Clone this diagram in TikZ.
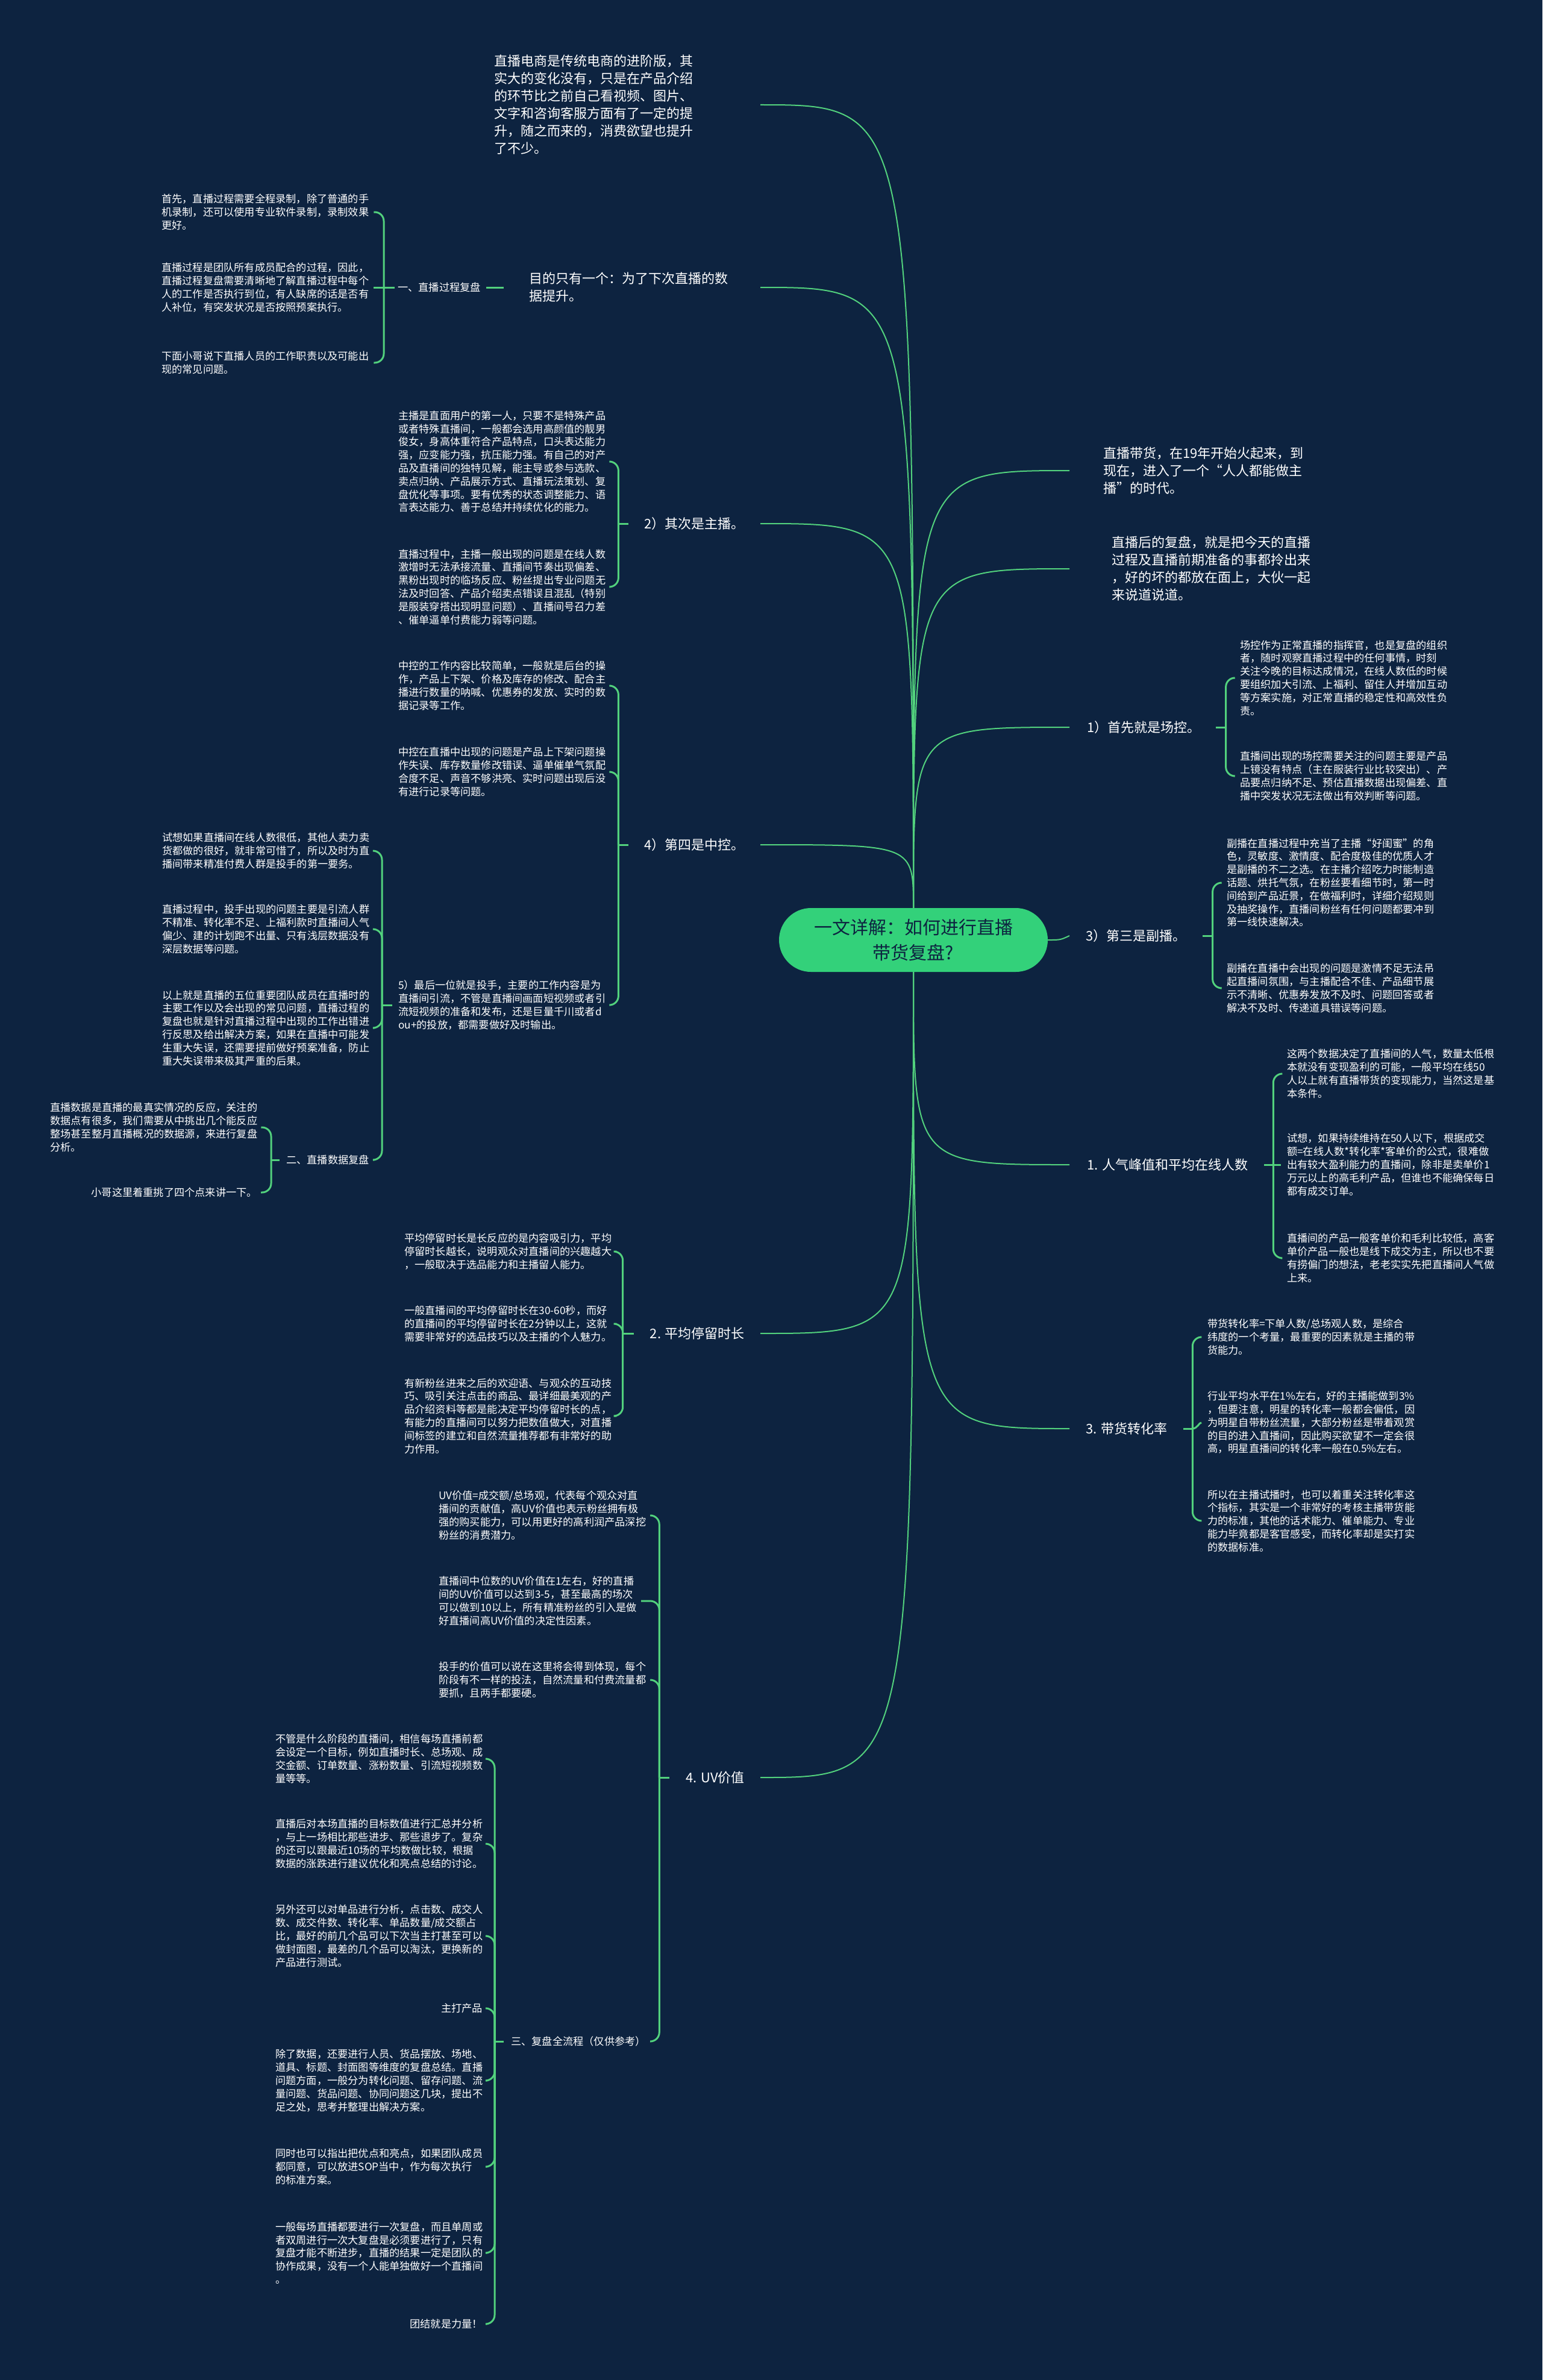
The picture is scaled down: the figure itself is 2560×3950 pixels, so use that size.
\documentclass[tikz,border=0pt]{standalone}
\usepackage{fontspec}
\setmainfont{Noto Sans CJK SC}
\usetikzlibrary{positioning}
\definecolor{bgnavy}{HTML}{0D2340}
\definecolor{linegreen}{HTML}{52D17D}
\definecolor{rootgreen}{HTML}{33D17A}
\tikzset{
  bigtxt/.style={text=white, font=\fontsize{22}{29}\selectfont, align=left, inner sep=0pt},
  smalltxt/.style={text=white, font=\fontsize{17.2}{21.8}\selectfont, align=left, inner sep=0pt},
  rootbox/.style={fill=rootgreen, text=bgnavy, rounded corners=53pt, minimum width=446pt,
    minimum height=106pt, font=\fontsize{30}{42}\selectfont, align=center},
  mainlink/.style={draw=linegreen, line width=2pt},
  subline/.style={draw=linegreen, line width=3pt},
  bracelink/.style={draw=linegreen, line width=3pt, rounded corners=15pt},
}
\begin{document}
\begin{tikzpicture}[x=1pt, y=-1pt]
\fill[bgnavy] (0,0) rectangle (2560,3950);
\useasboundingbox (0,0) rectangle (2560,3950);

% root
\node[rootbox] (root) at (1516,1560) {一文详解：如何进行直播\\带货复盘?};

% first level, left side
\node[bigtxt, anchor=west] (intro) at (820,174) {直播电商是传统电商的进阶版，其\\实大的变化没有，只是在产品介绍\\的环节比之前自己看视频、图片、\\文字和咨询客服方面有了一定的提\\升，随之而来的，消费欲望也提升\\了不少。};
\node[bigtxt, anchor=west] (goal) at (878,477) {目的只有一个：为了下次直播的数\\据提升。};
\node[bigtxt, anchor=east] (host) at (1236,869) {2）其次是主播。};
\node[bigtxt, anchor=east] (ctrl) at (1236,1402) {4）第四是中控。};
\node[bigtxt, anchor=east] (stay) at (1236,2213) {2. 平均停留时长};
\node[bigtxt, anchor=east] (uv) at (1236,2950) {4. UV价值};

% first level, right side
\node[bigtxt, anchor=west] (trend) at (1831,781) {直播带货，在19年开始火起来，到\\现在，进入了一个“人人都能做主\\播”的时代。};
\node[bigtxt, anchor=west] (after) at (1845,944) {直播后的复盘，就是把今天的直播\\过程及直播前期准备的事都拎出来\\，好的坏的都放在面上，大伙一起\\来说道说道。};
\node[bigtxt, anchor=west] (field) at (1804,1207) {1）首先就是场控。};
\node[bigtxt, anchor=west] (assist) at (1802,1553) {3）第三是副播。};
\node[bigtxt, anchor=west] (pop) at (1804,1933) {1. 人气峰值和平均在线人数};
\node[bigtxt, anchor=west] (conv) at (1802,2371) {3. 带货转化率};

% ends of the root links
\coordinate (introIn) at (1262,174);
\coordinate (goalIn) at (1262,477);
\coordinate (hostIn) at (1262,869);
\coordinate (ctrlIn) at (1262,1402);
\coordinate (stayIn) at (1262,2213);
\coordinate (uvIn) at (1262,2950);
\coordinate (trendIn) at (1775,781);
\coordinate (afterIn) at (1775,944);
\coordinate (fieldIn) at (1775,1207);
\coordinate (assistIn) at (1775,1553);
\coordinate (popIn) at (1775,1933);
\coordinate (convIn) at (1775,2371);

\foreach \e in {introIn,goalIn,hostIn,ctrlIn,trendIn,afterIn,fieldIn}
  \draw[mainlink] (root.north) .. controls (root.north |- \e) .. (\e);
\foreach \e in {stayIn,uvIn,popIn,convIn}
  \draw[mainlink] (root.south) .. controls (root.south |- \e) .. (\e);
\draw[mainlink] (root.east) .. controls (1760,1560) .. (assistIn);

% goal -> process review
\node[smalltxt, anchor=west] (procrev) at (660,477) {一、直播过程复盘};
\draw[subline] ([xshift=-42pt]goal.west) -- ([xshift=9pt]procrev.east);
\node[smalltxt, anchor=west] (a1) at (268,352) {首先，直播过程需要全程录制，除了普通的手\\机录制，还可以使用专业软件录制，录制效果\\更好。};
\node[smalltxt, anchor=west] (a2) at (268,477) {直播过程是团队所有成员配合的过程，因此，\\直播过程复盘需要清晰地了解直播过程中每个\\人的工作是否执行到位，有人缺席的话是否有\\人补位，有突发状况是否按照预案执行。};
\node[smalltxt, anchor=west] (a3) at (268,602) {下面小哥说下直播人员的工作职责以及可能出\\现的常见问题。};
\draw[subline] ([xshift=-5pt]procrev.west) -- ++(-18,0) coordinate (kA);
\draw[bracelink] (kA) |- ([xshift=8pt]a1.east);
\draw[subline] (kA) -- ([xshift=8pt]a2.east);
\draw[bracelink] (kA) |- ([xshift=8pt]a3.east);

% host
\node[smalltxt, anchor=west] (b1) at (661,766) {主播是直面用户的第一人，只要不是特殊产品\\或者特殊直播间，一般都会选用高颜值的靓男\\俊女，身高体重符合产品特点，口头表达能力\\强，应变能力强，抗压能力强。有自己的对产\\品及直播间的独特见解，能主导或参与选款、\\卖点归纳、产品展示方式、直播玩法策划、复\\盘优化等事项。要有优秀的状态调整能力、语\\言表达能力、善于总结并持续优化的能力。};
\node[smalltxt, anchor=west] (b2) at (661,974) {直播过程中，主播一般出现的问题是在线人数\\激增时无法承接流量、直播间节奏出现偏差、\\黑粉出现时的临场反应、粉丝提出专业问题无\\法及时回答、产品介绍卖点错误且混乱（特别\\是服装穿搭出现明显问题）、直播间号召力差\\、催单逼单付费能力弱等问题。};
\draw[subline] ([xshift=-26pt]host.west) -- ++(-17,0) coordinate (kB);
\foreach \c in {b1,b2}
  \draw[bracelink] (kB) |- ([xshift=7pt]\c.east);

% control
\node[smalltxt, anchor=west] (c1) at (661,1138) {中控的工作内容比较简单，一般就是后台的操\\作，产品上下架、价格及库存的修改、配合主\\播进行数量的呐喊、优惠券的发放、实时的数\\据记录等工作。};
\node[smalltxt, anchor=west] (c2) at (661,1281) {中控在直播中出现的问题是产品上下架问题操\\作失误、库存数量修改错误、逼单催单气氛配\\合度不足、声音不够洪亮、实时问题出现后没\\有进行记录等问题。};
\node[smalltxt, anchor=west] (c3) at (661,1668) {5）最后一位就是投手，主要的工作内容是为\\直播间引流，不管是直播间画面短视频或者引\\流短视频的准备和发布，还是巨量千川或者d\\ou+的投放，都需要做好及时输出。};
\draw[subline] ([xshift=-26pt]ctrl.west) -- ++(-17,0) coordinate (kC);
\foreach \c in {c1,c2,c3}
  \draw[bracelink] (kC) |- ([xshift=7pt]\c.east);

% pitcher
\node[smalltxt, anchor=west] (d1) at (269,1412) {试想如果直播间在线人数很低，其他人卖力卖\\货都做的很好，就非常可惜了，所以及时为直\\播间带来精准付费人群是投手的第一要务。};
\node[smalltxt, anchor=west] (d2) at (269,1542) {直播过程中，投手出现的问题主要是引流人群\\不精准、转化率不足、上福利款时直播间人气\\偏少、建的计划跑不出量、只有浅层数据没有\\深层数据等问题。};
\node[smalltxt, anchor=west] (d3) at (269,1706) {以上就是直播的五位重要团队成员在直播时的\\主要工作以及会出现的常见问题，直播过程的\\复盘也就是针对直播过程中出现的工作出错进\\行反思及给出解决方案，如果在直播中可能发\\生重大失误，还需要提前做好预案准备，防止\\重大失误带来极其严重的后果。};
\node[smalltxt, anchor=east] (datarev) at (613,1925) {二、直播数据复盘};
\draw[subline] ([xshift=-10pt]c3.west) -- ++(-17,0) coordinate (kD);
\foreach \c in {d1,d2,d3,datarev}
  \draw[bracelink] (kD) |- ([xshift=8pt]\c.east);

% data review
\node[smalltxt, anchor=west] (e1) at (83,1871) {直播数据是直播的最真实情况的反应，关注的\\数据点有很多，我们需要从中挑出几个能反应\\整场甚至整月直播概况的数据源，来进行复盘\\分析。};
\node[smalltxt, anchor=east] (e2) at (427,1979) {小哥这里着重挑了四个点来讲一下。};
\draw[subline] ([xshift=-11pt]datarev.west) -- ++(-14,0) coordinate (kE);
\foreach \c in {e1,e2}
  \draw[bracelink] (kE) |- ([xshift=6pt]\c.east);

% stay time
\node[smalltxt, anchor=west] (f1) at (671,2077) {平均停留时长是长反应的是内容吸引力，平均\\停留时长越长，说明观众对直播间的兴趣越大\\，一般取决于选品能力和主播留人能力。};
\node[smalltxt, anchor=west] (f2) at (671,2197) {一般直播间的平均停留时长在30-60秒，而好\\的直播间的平均停留时长在2分钟以上，这就\\需要非常好的选品技巧以及主播的个人魅力。};
\node[smalltxt, anchor=west] (f3) at (671,2350) {有新粉丝进来之后的欢迎语、与观众的互动技\\巧、吸引关注点击的商品、最详细最美观的产\\品介绍资料等都是能决定平均停留时长的点，\\有能力的直播间可以努力把数值做大，对直播\\间标签的建立和自然流量推荐都有非常好的助\\力作用。};
\draw[subline] ([xshift=-27pt]stay.west) -- ++(-18,0) coordinate (kF);
\foreach \c in {f1,f2,f3}
  \draw[bracelink] (kF) |- ([xshift=8pt]\c.east);

% uv value
\node[smalltxt, anchor=west] (g1) at (728,2515) {UV价值=成交额/总场观，代表每个观众对直\\播间的贡献值，高UV价值也表示粉丝拥有极\\强的购买能力，可以用更好的高利润产品深挖\\粉丝的消费潜力。};
\node[smalltxt, anchor=west] (g2) at (728,2657) {直播间中位数的UV价值在1左右，好的直播\\间的UV价值可以达到3-5，甚至最高的场次\\可以做到10以上，所有精准粉丝的引入是做\\好直播间高UV价值的决定性因素。};
\node[smalltxt, anchor=west] (g3) at (728,2788) {投手的价值可以说在这里将会得到体现，每个\\阶段有不一样的投法，自然流量和付费流量都\\要抓，且两手都要硬。};
\node[smalltxt, anchor=east] (fullrev) at (1072,3388) {三、复盘全流程（仅供参考）};
\draw[subline] ([xshift=-27pt]uv.west) -- ++(-17,0) coordinate (kG);
\foreach \c in {g1,g2,g3,fullrev}
  \draw[bracelink] (kG) |- ([xshift=7pt]\c.east);

% full review flow
\node[smalltxt, anchor=west] (h1) at (457,2919) {不管是什么阶段的直播间，相信每场直播前都\\会设定一个目标，例如直播时长、总场观、成\\交金额、订单数量、涨粉数量、引流短视频数\\量等等。};
\node[smalltxt, anchor=west] (h2) at (457,3060) {直播后对本场直播的目标数值进行汇总并分析\\，与上一场相比那些进步、那些退步了。复杂\\的还可以跟最近10场的平均数做比较，根据\\数据的涨跌进行建议优化和亮点总结的讨论。};
\node[smalltxt, anchor=west] (h3) at (457,3213) {另外还可以对单品进行分析，点击数、成交人\\数、成交件数、转化率、单品数量/成交额占\\比，最好的前几个品可以下次当主打甚至可以\\做封面图，最差的几个品可以淘汰，更换新的\\产品进行测试。};
\node[smalltxt, anchor=east] (h4) at (801,3333) {主打产品};
\node[smalltxt, anchor=west] (h5) at (457,3453) {除了数据，还要进行人员、货品摆放、场地、\\道具、标题、封面图等维度的复盘总结。直播\\问题方面，一般分为转化问题、留存问题、流\\量问题、货品问题、协同问题这几块，提出不\\足之处，思考并整理出解决方案。};
\node[smalltxt, anchor=west] (h6) at (457,3596) {同时也可以指出把优点和亮点，如果团队成员\\都同意，可以放进SOP当中，作为每次执行\\的标准方案。};
\node[smalltxt, anchor=west] (h7) at (457,3739) {一般每场直播都要进行一次复盘，而且单周或\\者双周进行一次大复盘是必须要进行了，只有\\复盘才能不断进步，直播的结果一定是团队的\\协作成果，没有一个人能单独做好一个直播间\\。};
\node[smalltxt, anchor=east] (h8) at (801,3857) {团结就是力量！};
\draw[subline] ([xshift=-12pt]fullrev.west) -- ++(-15,0) coordinate (kH);
\foreach \c in {h1,h2,h3,h4,h5,h6,h7,h8}
  \draw[bracelink] (kH) |- ([xshift=7pt]\c.east);

% field control
\node[smalltxt, anchor=west] (i1) at (2058,1125) {场控作为正常直播的指挥官，也是复盘的组织\\者，随时观察直播过程中的任何事情，时刻\\关注今晚的目标达成情况，在线人数低的时候\\要组织加大引流、上福利、留住人并增加互动\\等方案实施，对正常直播的稳定性和高效性负\\责。};
\node[smalltxt, anchor=west] (i2) at (2058,1288) {直播间出现的场控需要关注的问题主要是产品\\上镜没有特点（主在服装行业比较突出）、产\\品要点归纳不足、预估直播数据出现偏差、直\\播中突发状况无法做出有效判断等问题。};
\draw[subline] ([xshift=25pt]field.east) -- ++(17,0) coordinate (kI);
\foreach \c in {i1,i2}
  \draw[bracelink] (kI) |- ([xshift=-10pt]\c.west);

% assistant
\node[smalltxt, anchor=west] (j1) at (2036,1465) {副播在直播过程中充当了主播“好闺蜜”的角\\色，灵敏度、激情度、配合度极佳的优质人才\\是副播的不二之选。在主播介绍吃力时能制造\\话题、烘托气氛，在粉丝要看细节时，第一时\\间给到产品近景，在做福利时，详细介绍规则\\及抽奖操作，直播间粉丝有任何问题都要冲到\\第一线快速解决。};
\node[smalltxt, anchor=west] (j2) at (2036,1640) {副播在直播中会出现的问题是激情不足无法吊\\起直播间氛围，与主播配合不佳、产品细节展\\示不清晰、优惠券发放不及时、问题回答或者\\解决不及时、传递道具错误等问题。};
\draw[subline] ([xshift=27pt]assist.east) -- ++(17,0) coordinate (kJ);
\foreach \c in {j1,j2}
  \draw[bracelink] (kJ) |- ([xshift=-10pt]\c.west);

% popularity
\node[smalltxt, anchor=west] (k1) at (2136,1782) {这两个数据决定了直播间的人气，数量太低根\\本就没有变现盈利的可能，一般平均在线50\\人以上就有直播带货的变现能力，当然这是基\\本条件。};
\node[smalltxt, anchor=west] (k2) at (2136,1933) {试想，如果持续维持在50人以下，根据成交\\额=在线人数*转化率*客单价的公式，很难做\\出有较大盈利能力的直播间，除非是卖单价1\\万元以上的高毛利产品，但谁也不能确保每日\\都有成交订单。};
\node[smalltxt, anchor=west] (k3) at (2136,2088) {直播间的产品一般客单价和毛利比较低，高客\\单价产品一般也是线下成交为主，所以也不要\\有捞偏门的想法，老老实实先把直播间人气做\\上来。};
\draw[subline] ([xshift=27pt]pop.east) -- ++(15,0) coordinate (kK);
\draw[bracelink] (kK) |- ([xshift=-10pt]k1.west);
\draw[subline] (kK) -- ([xshift=-10pt]k2.west);
\draw[bracelink] (kK) |- ([xshift=-10pt]k3.west);

% conversion
\node[smalltxt, anchor=west] (l1) at (2004,2219) {带货转化率=下单人数/总场观人数，是综合\\纬度的一个考量，最重要的因素就是主播的带\\货能力。};
\node[smalltxt, anchor=west] (l2) at (2004,2361) {行业平均水平在1\%左右，好的主播能做到3\%\\，但要注意，明星的转化率一般都会偏低，因\\为明星自带粉丝流量，大部分粉丝是带着观赏\\的目的进入直播间，因此购买欲望不一定会很\\高，明星直播间的转化率一般在0.5\%左右。};
\node[smalltxt, anchor=west] (l3) at (2004,2524) {所以在主播试播时，也可以着重关注转化率这\\个指标，其实是一个非常好的考核主播带货能\\力的标准，其他的话术能力、催单能力、专业\\能力毕竟都是客官感受，而转化率却是实打实\\的数据标准。};
\draw[subline] ([xshift=27pt]conv.east) -- ++(15,0) coordinate (kL);
\draw[bracelink] (kL) |- ([xshift=-10pt]l1.west);
\draw[subline] (kL) .. controls ([xshift=8pt]kL) and ([xshift=-14pt]l2.west) .. ([xshift=-10pt]l2.west);
\draw[bracelink] (kL) |- ([xshift=-10pt]l3.west);
\end{tikzpicture}
\end{document}
